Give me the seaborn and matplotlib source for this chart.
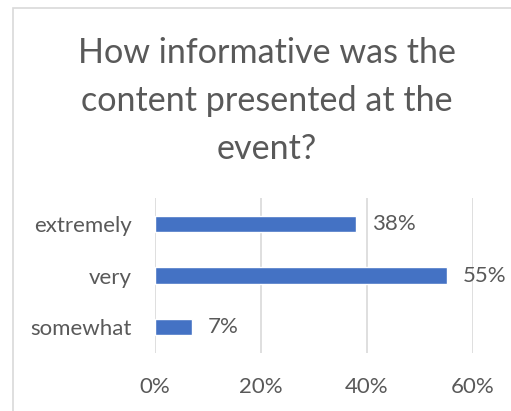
import matplotlib
matplotlib.use("Agg")
import matplotlib.pyplot as plt
from matplotlib.patches import Rectangle
import seaborn as sns
import pandas as pd

categories = ["extremely", "very", "somewhat"]
shares = [0.38, 0.55, 0.07]
tick_values = [0.0, 0.2, 0.4, 0.6]
tick_labels = ["0%", "20%", "40%", "60%"]
title = "How informative was the\ncontent presented at the\nevent?"

sns.set_theme(style="white")
plt.rcParams["font.family"] = ["Lato", "DejaVu Sans"]

TEXT = "#595959"
GRID = "#d9d9d9"
BAR = "#4472c4"

df = pd.DataFrame({"level": categories, "share": shares})

fig = plt.figure(figsize=(5.11, 4.11), dpi=100)
fig.patch.set_facecolor("white")

# chart frame (runs past the right and bottom edges)
fig.add_artist(Rectangle((13 / 511, -0.1), 1.2, 1 - 8 / 411 + 0.1,
                         transform=fig.transFigure, fill=False,
                         edgecolor=GRID, linewidth=1.2))

ax = fig.add_axes([155 / 511, 1 - 353 / 411, (473 - 155) / 511, (353 - 198) / 411])
sns.barplot(data=df, x="share", y="level", order=categories, orient="h",
            color=BAR, saturation=1, width=0.31, ax=ax, zorder=3)

ax.set_xlim(0, 0.6)
ax.set_xticks(tick_values)
ax.set_xticklabels(tick_labels)
ax.xaxis.grid(True, color=GRID, linewidth=1.2, zorder=0)
ax.set_axisbelow(True)
for s in ax.spines.values():
    s.set_visible(False)
ax.set_xlabel("")
ax.set_ylabel("")
ax.tick_params(axis="x", length=0, pad=17, labelsize=16, labelcolor=TEXT)
ax.tick_params(axis="y", length=0, pad=16.5, labelsize=16, labelcolor=TEXT)

for i, v in enumerate(shares):
    ax.annotate(f"{v:.0%}", xy=(v, i), xytext=(11.5, 0), textcoords="offset points",
                ha="left", va="center", fontsize=16, color=TEXT, annotation_clip=False)

fig.text(267 / 511, 1 - 101 / 411, title, ha="center", va="center",
         fontsize=24.6, color=TEXT, linespacing=1.6)

fig.savefig("out.png", dpi=100)
